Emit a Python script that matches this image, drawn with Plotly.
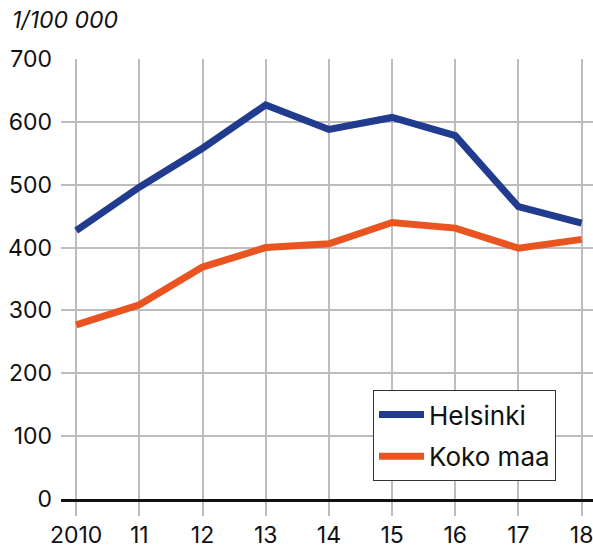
import plotly.graph_objects as go

# Rate per 100 000 inhabitants, 2010–2018
years = [2010, 2011, 2012, 2013, 2014, 2015, 2016, 2017, 2018]
year_labels = ["2010", "11", "12", "13", "14", "15", "16", "17", "18"]
helsinki = [427, 496, 558, 627, 588, 607, 578, 465, 439]
koko_maa = [277, 309, 369, 400, 406, 440, 431, 399, 413]
y_ticks = [0, 100, 200, 300, 400, 500, 600, 700]

BLUE = "#213b8f"
ORANGE = "#ea5420"
FONT = "Inter, Roboto, sans-serif"
FS = 23

fig = go.Figure()
fig.add_trace(go.Scatter(x=years, y=helsinki, mode="lines", name="Helsinki",
                         legendgroup="a", line=dict(color=BLUE, width=7)))
fig.add_trace(go.Scatter(x=years, y=koko_maa, mode="lines", name="Koko maa",
                         legendgroup="b", line=dict(color=ORANGE, width=7)))

fig.update_layout(
    width=593, height=550,
    margin=dict(l=61, r=0, t=59, b=51),
    paper_bgcolor="white", plot_bgcolor="white",
    font=dict(family=FONT, size=FS, color="#111111"),
    showlegend=True,
    legend=dict(x=(373 - 61) / 532, y=(499 - 390) / 440, xanchor="left", yanchor="top",
                bordercolor="#333333", borderwidth=1, bgcolor="white",
                font=dict(size=26, family=FONT, color="#111111"),
                traceorder="grouped", tracegroupgap=5, itemwidth=45),
    annotations=[dict(text="<i>1/100 000</i>", x=(10 - 61) / 532, y=(499 - 20) / 440,
                      xref="paper", yref="paper",
                      showarrow=False, xanchor="left", yanchor="middle",
                      font=dict(size=FS, family=FONT, color="#111111"))],
)

fig.update_xaxes(range=[2009.76, 2018.18], tickvals=years, ticktext=year_labels,
                 showgrid=True, gridcolor="#bdbdbd", gridwidth=1.5,
                 ticks="outside", ticklen=14, tickcolor="#bdbdbd", tickwidth=1.5,
                 showline=True, linecolor="#111111", linewidth=2.5,
                 tickfont=dict(size=FS), ticklabelstandoff=0,
                 ticklabeloverflow="allow", automargin=False,
                 zeroline=False, fixedrange=True)
fig.update_yaxes(range=[0, 700], tickvals=y_ticks,
                 showgrid=True, gridcolor="#bdbdbd", gridwidth=1.5,
                 ticks="", zeroline=False, showline=False, automargin=False,
                 tickfont=dict(size=FS), ticklabelstandoff=8, fixedrange=True)

fig.write_html("out.html")
